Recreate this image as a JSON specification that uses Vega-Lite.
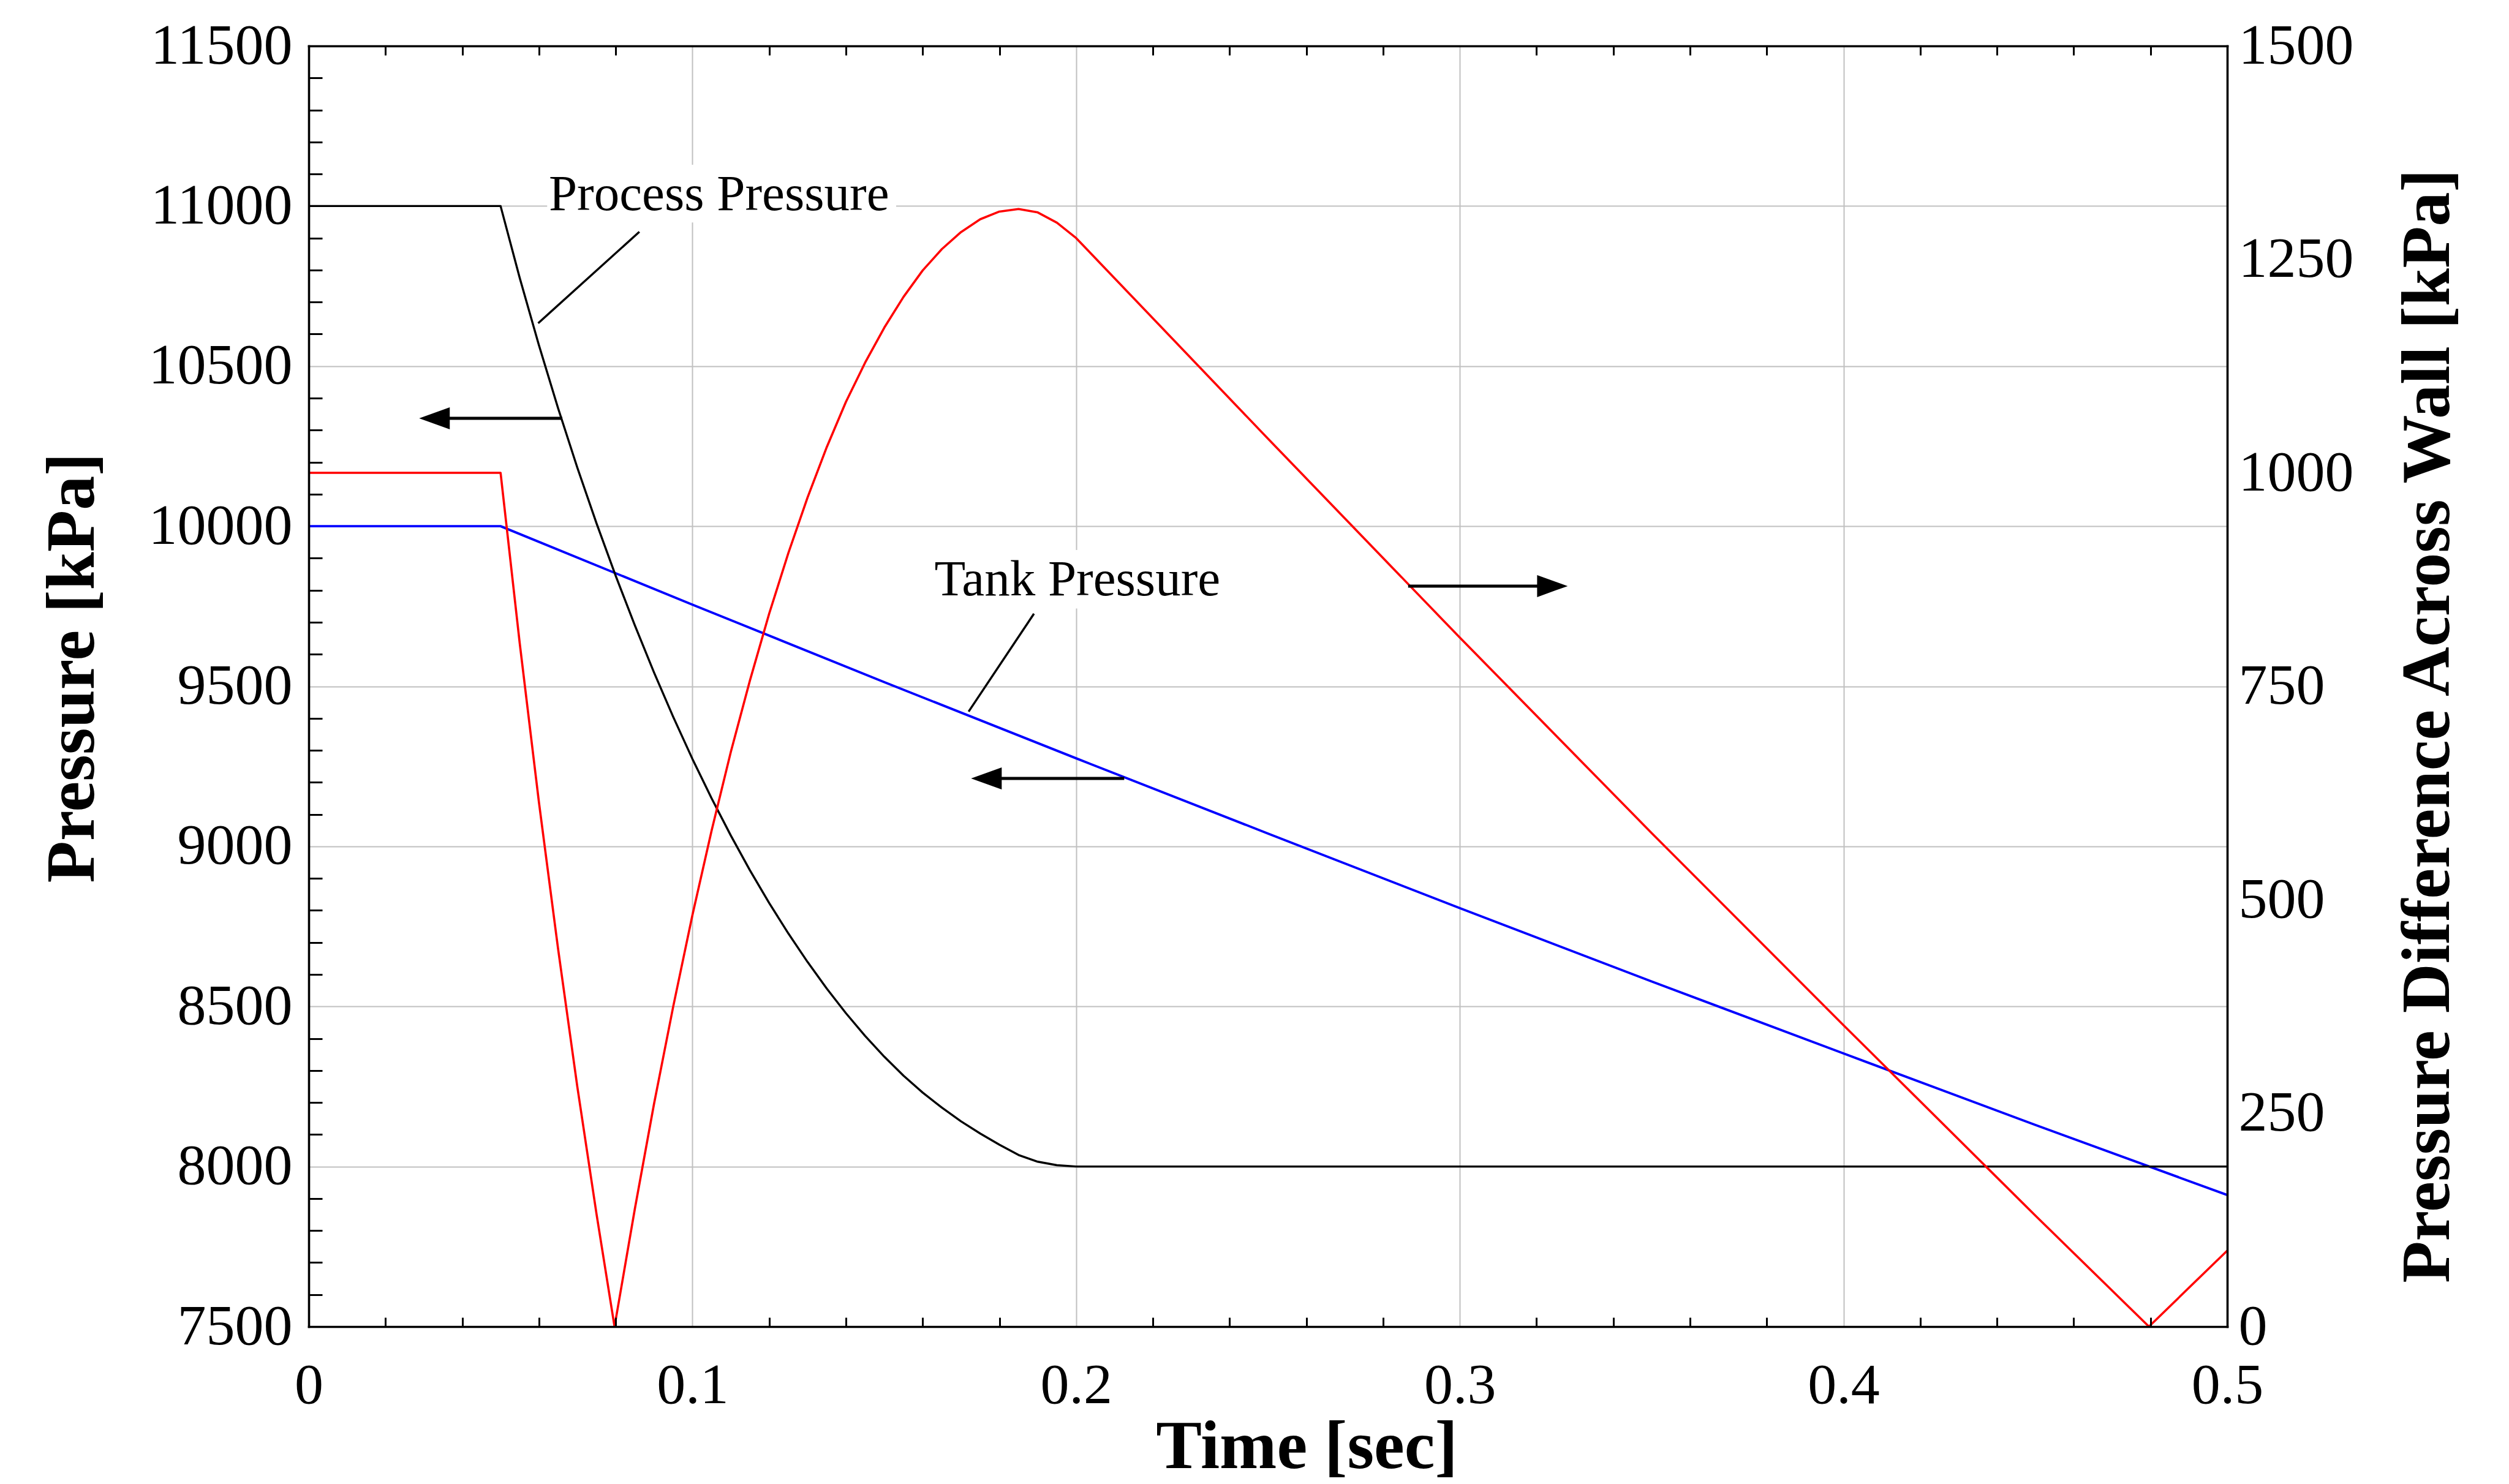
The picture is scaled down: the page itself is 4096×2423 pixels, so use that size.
{
  "$schema": "https://vega.github.io/schema/vega-lite/v6.json",
  "width": 3132,
  "height": 2091,
  "autosize": {"type": "none"},
  "padding": {"left": 504, "top": 75, "right": 460, "bottom": 257},
  "background": "white",
  "config": {
    "view": {"stroke": null},
    "font": "Liberation Serif",
    "axis": {
      "labelFont": "Liberation Serif",
      "labelFontSize": 94,
      "labelColor": "black",
      "labelFlush": false,
      "labelOverlap": false,
      "labelBound": false,
      "labelLimit": 0,
      "titleLimit": 0,
      "titleFont": "Liberation Serif",
      "titleFontSize": 112,
      "titleFontWeight": "bold",
      "titleColor": "black"
    }
  },
  "datasets": {
    "process": [
      {"t": 0, "p": 11000}, {"t": 0.05, "p": 11000}, {"t": 0.055, "p": 10775}, {"t": 0.06, "p": 10565},
      {"t": 0.065, "p": 10368}, {"t": 0.07, "p": 10183}, {"t": 0.075, "p": 10009}, {"t": 0.08, "p": 9845},
      {"t": 0.085, "p": 9690}, {"t": 0.09, "p": 9543}, {"t": 0.095, "p": 9404}, {"t": 0.1, "p": 9273},
      {"t": 0.105, "p": 9150}, {"t": 0.11, "p": 9034}, {"t": 0.115, "p": 8925}, {"t": 0.12, "p": 8823},
      {"t": 0.125, "p": 8728}, {"t": 0.13, "p": 8639}, {"t": 0.135, "p": 8556}, {"t": 0.14, "p": 8479},
      {"t": 0.145, "p": 8408}, {"t": 0.15, "p": 8343}, {"t": 0.155, "p": 8284}, {"t": 0.16, "p": 8231},
      {"t": 0.165, "p": 8184}, {"t": 0.17, "p": 8141}, {"t": 0.175, "p": 8103}, {"t": 0.18, "p": 8068},
      {"t": 0.185, "p": 8036}, {"t": 0.19, "p": 8015}, {"t": 0.195, "p": 8004}, {"t": 0.2, "p": 8000},
      {"t": 0.5, "p": 8000}
    ],
    "tank": [
      {"t": 0, "p": 10000}, {"t": 0.05, "p": 10000}, {"t": 0.1, "p": 9755}, {"t": 0.15, "p": 9513},
      {"t": 0.2, "p": 9275}, {"t": 0.25, "p": 9040}, {"t": 0.3, "p": 8807}, {"t": 0.35, "p": 8578},
      {"t": 0.4, "p": 8353}, {"t": 0.45, "p": 8130}, {"t": 0.5, "p": 7911}
    ],
    "diff": [
      {"t": 0, "d": 1000}, {"t": 0.05, "d": 1000}, {"t": 0.055, "d": 800}, {"t": 0.06, "d": 614},
      {"t": 0.065, "d": 442}, {"t": 0.07, "d": 281}, {"t": 0.075, "d": 132}, {"t": 0.0797, "d": 0},
      {"t": 0.085, "d": 138}, {"t": 0.09, "d": 261}, {"t": 0.095, "d": 375}, {"t": 0.1, "d": 482},
      {"t": 0.105, "d": 581}, {"t": 0.11, "d": 673}, {"t": 0.115, "d": 757}, {"t": 0.12, "d": 835},
      {"t": 0.125, "d": 906}, {"t": 0.13, "d": 971}, {"t": 0.135, "d": 1030}, {"t": 0.14, "d": 1083},
      {"t": 0.145, "d": 1129}, {"t": 0.15, "d": 1170}, {"t": 0.155, "d": 1206}, {"t": 0.16, "d": 1237},
      {"t": 0.165, "d": 1262}, {"t": 0.17, "d": 1282}, {"t": 0.175, "d": 1297}, {"t": 0.18, "d": 1306},
      {"t": 0.185, "d": 1309}, {"t": 0.19, "d": 1305}, {"t": 0.195, "d": 1293}, {"t": 0.2, "d": 1275},
      {"t": 0.25, "d": 1040}, {"t": 0.3, "d": 807}, {"t": 0.35, "d": 578}, {"t": 0.4, "d": 353},
      {"t": 0.45, "d": 130}, {"t": 0.4796, "d": 0}, {"t": 0.5, "d": 89}
    ],
    "boxes": [
      {"t1": 0.06214, "t2": 0.1531, "p1": 10948.5, "p2": 11129},
      {"t1": 0.16256, "t2": 0.23868, "p1": 9742.8, "p2": 9925.6}
    ],
    "labels": [
      {"t": 0.06257, "p": 10988, "label": "Process Pressure"},
      {"t": 0.16306, "p": 9783.5, "label": "Tank Pressure"}
    ],
    "leaders": [
      {"t1": 0.08617, "p1": 10919.5, "t2": 0.0598, "p2": 10634},
      {"t1": 0.18901, "p1": 9726.6, "t2": 0.17198, "p2": 9420.9}
    ],
    "arrows": [
      {"tip": 0.02878, "base": 0.0345, "tail": 0.0661, "p": 10337, "dir": "left"},
      {"tip": 0.17262, "base": 0.1783, "tail": 0.21254, "p": 9212, "dir": "left"},
      {"tip": 0.32812, "base": 0.3224, "tail": 0.28653, "p": 9813, "dir": "right"}
    ]
  },
  "layer": [
    {
      "data": {"name": "tank"},
      "mark": {"type": "line", "color": "#0000ff", "strokeWidth": 3.8, "strokeJoin": "round"},
      "encoding": {
        "x": {"field": "t", "type": "quantitative", "scale": {"domain": [0, 0.5], "nice": false, "zero": false},
          "axis": {"orient": "bottom", "values": [0.1, 0.2, 0.3, 0.4], "grid": true, "gridColor": "#c0c0c0", "gridWidth": 2, "gridOpacity": 1, "labels": false, "ticks": false, "domain": false, "title": null, "zindex": 0}},
        "y": {"field": "p", "type": "quantitative", "scale": {"domain": [7500, 11500], "nice": false, "zero": false},
          "axis": {"orient": "left", "values": [8000, 8500, 9000, 9500, 10000, 10500, 11000], "grid": true, "gridColor": "#c0c0c0", "gridWidth": 2, "gridOpacity": 1, "labels": false, "ticks": false, "domain": false, "title": null, "zindex": 0}}
      }
    },
    {
      "data": {"name": "process"},
      "mark": {"type": "line", "color": "black", "strokeWidth": 3.4, "strokeJoin": "round"},
      "encoding": {
        "x": {"field": "t", "type": "quantitative", "scale": {"domain": [0, 0.5], "nice": false, "zero": false},
          "axis": {"orient": "bottom", "values": [0, 0.1, 0.2, 0.3, 0.4, 0.5], "format": "~g", "grid": false, "ticks": false, "domain": true, "domainColor": "black", "domainWidth": 3.6, "domainCap": "square", "labelPadding": 50, "title": "Time [sec]", "titleX": 1629, "titleY": 230, "titleAlign": "center", "titleBaseline": "alphabetic", "zindex": 1}},
        "y": {"field": "p", "type": "quantitative", "scale": {"domain": [7500, 11500], "nice": false, "zero": false},
          "axis": {"orient": "left", "values": [7500, 8000, 8500, 9000, 9500, 10000, 10500, 11000, 11500], "format": "d", "grid": false, "ticks": false, "domain": true, "domainColor": "black", "domainWidth": 3.6, "domainCap": "square", "labelPadding": 27, "title": "Pressure [kPa]", "titleAngle": 270, "titleX": -352, "titleY": 1015, "titleAlign": "center", "titleBaseline": "alphabetic", "zindex": 1}}
      }
    },
    {
      "data": {"name": "diff"},
      "mark": {"type": "line", "color": "#ff0000", "strokeWidth": 3.6, "strokeJoin": "round"},
      "encoding": {
        "x": {"field": "t", "type": "quantitative", "scale": {"domain": [0, 0.5], "nice": false, "zero": false}, "axis": null},
        "y": {"field": "d", "type": "quantitative", "scale": {"domain": [0, 1500], "nice": false, "zero": false},
          "axis": {"orient": "right", "values": [0, 250, 500, 750, 1000, 1250, 1500], "format": "d", "grid": false, "ticks": false, "domain": true, "domainColor": "black", "domainWidth": 3.6, "domainCap": "square", "labelPadding": 18, "title": "Pressure Difference Across Wall [kPa]", "titleAngle": 270, "titleX": 361, "titleY": 1110, "titleAlign": "center", "titleBaseline": "alphabetic", "zindex": 1}}
      }
    },
    {
      "data": {"name": "boxes"},
      "mark": {"type": "rect", "color": "white"},
      "encoding": {
        "x": {"field": "t1", "type": "quantitative", "scale": {"domain": [0, 0.5], "nice": false, "zero": false},
          "axis": {"orient": "bottom", "values": [0.02, 0.04, 0.06, 0.08, 0.12, 0.14, 0.16, 0.18, 0.22, 0.24, 0.26, 0.28, 0.32, 0.34, 0.36, 0.38, 0.42, 0.44, 0.46, 0.48], "labels": false, "ticks": true, "tickSize": -15, "tickWidth": 3, "tickColor": "black", "domain": false, "grid": false, "title": null, "zindex": 1}},
        "x2": {"field": "t2"},
        "y": {"field": "p1", "type": "quantitative", "scale": {"domain": [7500, 11500], "nice": false, "zero": false},
          "axis": {"orient": "left", "values": [7600, 7700, 7800, 7900, 8100, 8200, 8300, 8400, 8600, 8700, 8800, 8900, 9100, 9200, 9300, 9400, 9600, 9700, 9800, 9900, 10100, 10200, 10300, 10400, 10600, 10700, 10800, 10900, 11100, 11200, 11300, 11400], "labels": false, "ticks": true, "tickSize": -22, "tickWidth": 3, "tickColor": "black", "domain": false, "grid": false, "title": null, "zindex": 1}},
        "y2": {"field": "p2"}
      }
    },
    {
      "data": {"name": "labels"},
      "mark": {"type": "text", "font": "Liberation Serif", "fontSize": 83, "align": "left", "baseline": "alphabetic", "color": "black"},
      "encoding": {
        "x": {"field": "t", "type": "quantitative", "scale": {"domain": [0, 0.5], "nice": false, "zero": false},
          "axis": {"orient": "top", "values": [0.02, 0.04, 0.06, 0.08, 0.12, 0.14, 0.16, 0.18, 0.22, 0.24, 0.26, 0.28, 0.32, 0.34, 0.36, 0.38, 0.42, 0.44, 0.46, 0.48], "labels": false, "ticks": true, "tickSize": -15, "tickWidth": 3, "tickColor": "black", "domain": true, "domainColor": "black", "domainWidth": 3.6, "domainCap": "square", "grid": false, "title": null, "zindex": 1}},
        "y": {"field": "p", "type": "quantitative", "scale": {"domain": [7500, 11500], "nice": false, "zero": false}, "axis": null},
        "text": {"field": "label", "type": "nominal"}
      }
    },
    {
      "data": {"name": "leaders"},
      "mark": {"type": "rule", "color": "black", "strokeWidth": 3.5},
      "encoding": {
        "x": {"field": "t1", "type": "quantitative", "scale": {"domain": [0, 0.5], "nice": false, "zero": false}, "axis": null},
        "x2": {"field": "t2"},
        "y": {"field": "p1", "type": "quantitative", "scale": {"domain": [7500, 11500], "nice": false, "zero": false}, "axis": null},
        "y2": {"field": "p2"}
      }
    },
    {
      "data": {"name": "arrows"},
      "mark": {"type": "rule", "color": "black", "strokeWidth": 5},
      "encoding": {
        "x": {"field": "base", "type": "quantitative", "scale": {"domain": [0, 0.5], "nice": false, "zero": false}, "axis": null},
        "x2": {"field": "tail"},
        "y": {"field": "p", "type": "quantitative", "scale": {"domain": [7500, 11500], "nice": false, "zero": false}, "axis": null}
      }
    },
    {
      "data": {"name": "arrows"},
      "mark": {"type": "point", "filled": true, "size": 2500, "color": "black", "opacity": 1, "strokeWidth": 0},
      "encoding": {
        "x": {"field": "tip", "type": "quantitative", "scale": {"domain": [0, 0.5], "nice": false, "zero": false}, "axis": null},
        "y": {"field": "p", "type": "quantitative", "scale": {"domain": [7500, 11500], "nice": false, "zero": false}, "axis": null},
        "shape": {"field": "dir", "type": "nominal", "scale": {"domain": ["left", "right"], "range": ["M0,0L2,-0.72L2,0.72Z", "M0,0L-2,-0.72L-2,0.72Z"]}, "legend": null}
      }
    }
  ],
  "resolve": {"scale": {"y": "independent"}, "axis": {"x": "independent", "y": "independent"}}
}
